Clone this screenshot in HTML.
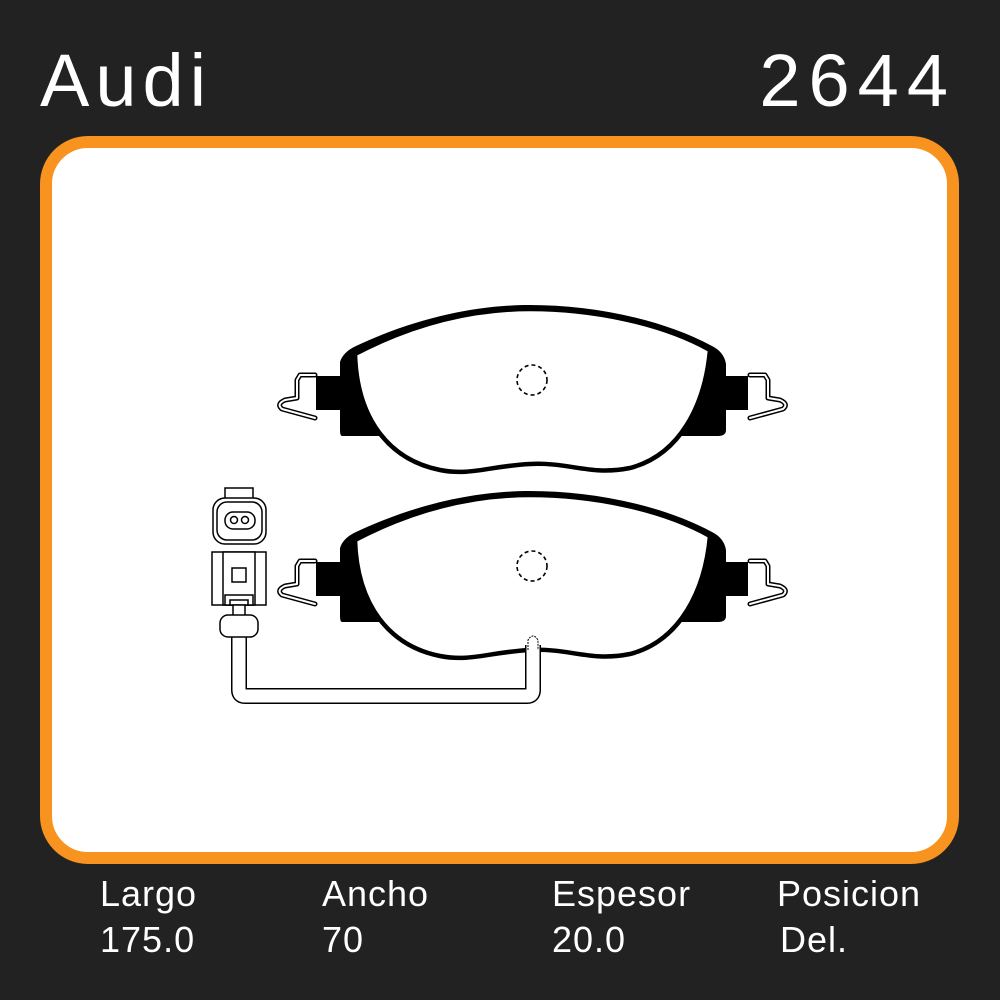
<!DOCTYPE html>
<html><head><style>
body{margin:0;background:#222;}
svg{display:block}
</style></head><body>
<svg width="1000" height="1000" viewBox="0 0 1000 1000" xmlns="http://www.w3.org/2000/svg" font-family="Liberation Sans, sans-serif">
<rect width="1000" height="1000" fill="#222"/>
<text x="40" y="106" fill="#fff" font-size="74" letter-spacing="6">Audi</text>
<text x="956" y="106" fill="#fff" font-size="74" text-anchor="end" letter-spacing="8">2644</text>
<rect x="46" y="142" width="907" height="716" rx="42" fill="#fff" stroke="#f7931e" stroke-width="12"/>
<defs>
<g id="pad">
  <path d="M340,362 Q343,352 356,346 C420,316 480,305 530,305 C590,305 660,318 712,346 Q724,352 726,364 V376 H748 V410 H726 V430 Q726,436 718,436 H342 Q340,436 340,430 V410 H316 V376 H340 Z" fill="#000"/>
  <path d="M355,354 C420,320 480,309 530,309 C590,309 660,322 710,350 C705,405 680,455 630,468 C590,476 570,462 530,464 C490,466 470,476 440,470 C390,460 357,420 355,354 Z" fill="#fff" stroke="#000" stroke-width="4.5"/>
  <circle cx="532" cy="380" r="15" fill="none" stroke="#000" stroke-width="1.6" stroke-dasharray="4,3"/>
  <g fill="none" stroke-linejoin="round" stroke-linecap="round">
    <path d="M315,375 H300 L297,380 V398 L285,400 Q276,404 282,409 L315,418" stroke="#000" stroke-width="5"/>
    <path d="M315,375 H300 L297,380 V398 L285,400 Q276,404 282,409 L315,418" stroke="#fff" stroke-width="2"/>
    <path d="M750,375 H765 L768,380 V398 L780,400 Q789,404 783,409 L750,418" stroke="#000" stroke-width="5"/>
    <path d="M750,375 H765 L768,380 V398 L780,400 Q789,404 783,409 L750,418" stroke="#fff" stroke-width="2"/>
  </g>
</g>
</defs>
<use href="#pad"/>
<use href="#pad" transform="translate(0,186)"/>
<path d="M239,636 V690 Q239,696 245,696 H527 Q533,696 533,690 V645" fill="none" stroke="#000" stroke-width="16" stroke-linejoin="round"/>
<path d="M239,636 V690 Q239,696 245,696 H527 Q533,696 533,690 V645" fill="none" stroke="#fff" stroke-width="13" stroke-linejoin="round"/>
<path d="M528,650 V640 Q533,632 538,640 V650" fill="none" stroke="#000" stroke-width="1" stroke-dasharray="2,1"/>
<g fill="#fff" stroke="#000" stroke-width="1.5">
<rect x="225" y="488" width="28" height="16"/>
<rect x="213" y="498" width="53" height="46" rx="12"/>
<rect x="217" y="502" width="45" height="38" rx="10"/>
<rect x="225" y="512" width="30" height="17" rx="8"/>
<circle cx="234" cy="520" r="3.5"/>
<circle cx="245" cy="520" r="3.5"/>
<rect x="212" y="552" width="54" height="53"/>
<rect x="223" y="552" width="32" height="53"/>
<rect x="232" y="568" width="14" height="14"/>
<rect x="225" y="595" width="28" height="10"/>
<rect x="230" y="600" width="18" height="5"/>
<rect x="233" y="605" width="12" height="12"/>
<rect x="220" y="615" width="38" height="22" rx="8"/>
</g>
<g fill="#fff" font-size="36" letter-spacing="1">
<text x="100" y="906">Largo</text>
<text x="322" y="906">Ancho</text>
<text x="552" y="906">Espesor</text>
<text x="777" y="906">Posicion</text>
<text x="100" y="952">175.0</text>
<text x="322" y="952">70</text>
<text x="552" y="952">20.0</text>
<text x="780" y="952">Del.</text>
</g>
</svg>
</body></html>
